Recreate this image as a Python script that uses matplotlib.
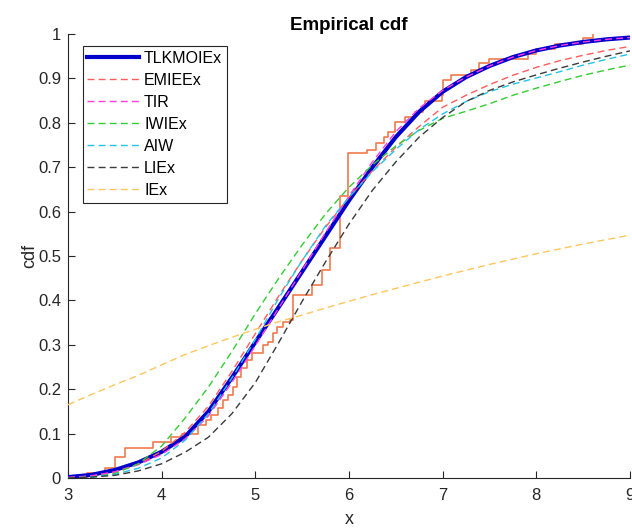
"""
Empirical cdf of the sample against seven fitted cdf models.
"""

import matplotlib

matplotlib.use("Agg")
import matplotlib.pyplot as plt
from matplotlib.ticker import FixedLocator, FuncFormatter

x_grid = [3.0, 3.25, 3.5, 3.75, 4.0, 4.25, 4.5, 4.75, 5.0, 5.25, 5.5, 5.75, 6.0,
          6.25, 6.5, 6.75, 7.0, 7.25, 7.5, 7.75, 8.0, 8.25, 8.5, 8.75, 9.0]

cdf_tlkmoiex = [0.002, 0.007, 0.018, 0.035, 0.059, 0.093, 0.150, 0.226, 0.306,
                0.385, 0.465, 0.545, 0.625, 0.700, 0.768, 0.825, 0.870, 0.903,
                0.928, 0.948, 0.963, 0.974, 0.982, 0.988, 0.992]
cdf_emieex = [0.001, 0.004, 0.013, 0.031, 0.060, 0.103, 0.162, 0.240, 0.325,
              0.410, 0.490, 0.565, 0.632, 0.692, 0.745, 0.792, 0.835, 0.862,
              0.886, 0.907, 0.925, 0.940, 0.952, 0.963, 0.972]
cdf_tir = [0.001, 0.005, 0.014, 0.030, 0.053, 0.088, 0.140, 0.215, 0.298, 0.383,
           0.468, 0.553, 0.635, 0.712, 0.780, 0.833, 0.873, 0.903, 0.928, 0.948,
           0.963, 0.974, 0.982, 0.988, 0.992]
cdf_iwiex = [0.000, 0.002, 0.010, 0.032, 0.072, 0.135, 0.205, 0.285, 0.370,
             0.450, 0.525, 0.595, 0.655, 0.705, 0.748, 0.783, 0.810, 0.826,
             0.843, 0.862, 0.878, 0.893, 0.907, 0.919, 0.930]
cdf_aiw = [0.000, 0.002, 0.008, 0.022, 0.045, 0.085, 0.145, 0.225, 0.312, 0.405,
           0.490, 0.568, 0.632, 0.690, 0.740, 0.785, 0.820, 0.848, 0.870, 0.887,
           0.901, 0.915, 0.930, 0.943, 0.955]
cdf_liex = [0.000, 0.002, 0.006, 0.016, 0.032, 0.058, 0.092, 0.145, 0.215,
            0.305, 0.398, 0.487, 0.572, 0.648, 0.712, 0.768, 0.812, 0.848,
            0.873, 0.892, 0.908, 0.923, 0.937, 0.950, 0.962]
cdf_iex = [0.165, 0.188, 0.210, 0.231, 0.255, 0.278, 0.298, 0.317, 0.335, 0.352,
           0.367, 0.383, 0.398, 0.413, 0.427, 0.441, 0.455, 0.468, 0.481, 0.493,
           0.505, 0.516, 0.527, 0.537, 0.547]

# empirical cdf: jump locations and level after each jump
ecdf_x = [3.0, 3.2, 3.4, 3.5, 3.61, 3.91, 4.1, 4.22, 4.39, 4.47, 4.53, 4.6,
          4.66, 4.71, 4.76, 4.8, 4.85, 4.91, 4.96, 5.08, 5.14, 5.19, 5.23, 5.3,
          5.37, 5.4, 5.6, 5.71, 5.8, 5.9, 5.99, 6.19, 6.29, 6.37, 6.42, 6.49,
          6.6, 6.7, 6.79, 6.81, 6.99, 7.0, 7.09, 7.3, 7.39, 7.5, 7.91, 8.0, 8.2,
          8.5, 8.61]
ecdf_y = [0.0, 0.011, 0.022, 0.048, 0.068, 0.082, 0.092, 0.1, 0.119, 0.13,
          0.142, 0.157, 0.176, 0.187, 0.206, 0.228, 0.247, 0.266, 0.281, 0.3,
          0.307, 0.326, 0.341, 0.352, 0.356, 0.412, 0.435, 0.468, 0.517, 0.635,
          0.731, 0.739, 0.754, 0.769, 0.78, 0.802, 0.814, 0.825, 0.836, 0.848,
          0.863, 0.896, 0.908, 0.919, 0.934, 0.943, 0.955, 0.966, 0.977, 0.99,
          1.0]

x_ticks = [3, 4, 5, 6, 7, 8, 9]
y_ticks = [0.0, 0.1, 0.2, 0.3, 0.4, 0.5, 0.6, 0.7, 0.8, 0.9, 1.0]

dashed_models = [
    ("EMIEEx", cdf_emieex, "#ff5c5c"),
    ("TIR", cdf_tir, "#ff3de0"),
    ("IWIEx", cdf_iwiex, "#33cc33"),
    ("AIW", cdf_aiw, "#22c4e6"),
    ("LIEx", cdf_liex, "#3a3a3a"),
    ("IEx", cdf_iex, "#ffc65c"),
]


def main() -> None:
    plt.rcParams["font.family"] = ["Liberation Sans", "DejaVu Sans"]
    fig = plt.figure(figsize=(6.32, 5.32), dpi=100)
    ax = fig.add_axes([68 / 632, 54 / 532, 562 / 632, 444 / 532])

    ax.step(ecdf_x, ecdf_y, where="post", color="#f07a4f", linewidth=1.2, zorder=2)
    ax.plot(x_grid, cdf_tlkmoiex, color="#0000cc", linewidth=3.0,
            label="TLKMOIEx", zorder=3)
    for name, values, color in dashed_models:
        ax.plot(x_grid, values, color=color, linewidth=1.0, dashes=(5, 3),
                label=name, zorder=4)

    ax.set_xlim(3, 9)
    ax.set_ylim(0, 1)
    ax.xaxis.set_major_locator(FixedLocator(x_ticks))
    ax.yaxis.set_major_locator(FixedLocator(y_ticks))
    ax.yaxis.set_major_formatter(FuncFormatter(lambda v, _pos: f"{v:g}"))

    for side in ("top", "right"):
        ax.spines[side].set_visible(False)
    for side in ("left", "bottom"):
        ax.spines[side].set_color("#262626")
        ax.spines[side].set_linewidth(0.8)
    ax.tick_params(direction="in", length=5, width=0.8, colors="#262626",
                   labelsize=12, pad=5)
    ax.tick_params(axis="x", pad=7)

    ax.set_title("Empirical cdf", fontsize=13.5, fontweight="bold", pad=3)
    ax.set_xlabel("x", fontsize=13, color="#262626", labelpad=6)
    ax.set_ylabel("cdf", fontsize=13, color="#262626", labelpad=0)

    leg = ax.legend(loc="upper left", bbox_to_anchor=(0.026, 0.973),
                    borderaxespad=0, fontsize=11.5, handlelength=3.2,
                    handletextpad=0.35, labelspacing=0.44, borderpad=0.3,
                    fancybox=False, framealpha=1)
    leg.get_frame().set_edgecolor("#262626")
    leg.get_frame().set_linewidth(0.8)

    fig.savefig("out.png", dpi=100)
    plt.close(fig)


if __name__ == "__main__":
    main()
